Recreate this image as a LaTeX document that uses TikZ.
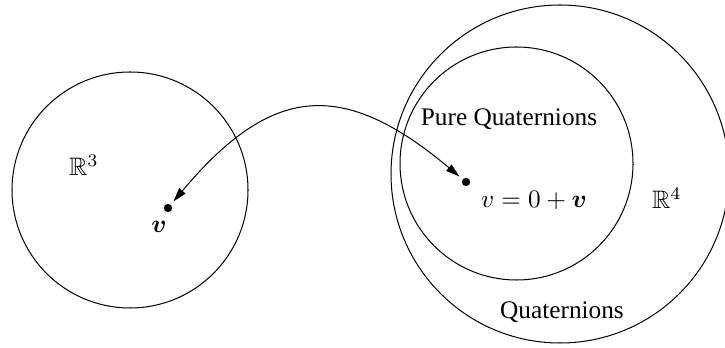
\documentclass[tikz,border=0pt]{standalone}
\usepackage[no-math]{fontspec}
\setmainfont{Liberation Serif}
\usepackage{amsmath,amssymb}
\usetikzlibrary{arrows.meta}
\tikzset{
  space/.style={draw=black, line width=0.4pt},
  spot/.style={circle, fill=black, inner sep=0pt, minimum size=3.3pt},
  tag/.style={inner sep=1pt, font=\normalsize},
  link/.style={{Triangle[length=5.5pt,width=3.2pt]}-{Triangle[length=5.5pt,width=3.2pt]},
               line width=0.4pt, shorten <=1.5pt, shorten >=1.5pt},
}

\begin{document}
\begin{tikzpicture}[x=0.0139cm, y=-0.0139cm]
    \useasboundingbox (0,0) rectangle (725,348);
    \coordinate (cthree) at (130,190);
    \coordinate (cquat)  at (560,174);
    \coordinate (cpure)  at (516.5,163.5);
    \draw[space] (cthree) circle[radius=118];
    \draw[space] (cquat)  circle[radius=169];
    \draw[space] (cpure)  circle[radius=116.5];
    \node[spot] (vvec)  at (168,208) {};
    \node[spot] (vquat) at (466,182) {};
    \node[tag] (lthree) at (84,165)  {$\mathbb{R}^3$};
    \node[tag] (lvec)   at (159,227) {$\boldsymbol{v}$};
    \node[tag] (lpure)  at (509,119) {Pure Quaternions};
    \node[tag] (lvq)    at (534,200) {$v = 0 + \boldsymbol{v}$};
    \node[tag] (lfour)  at (667,198) {$\mathbb{R}^4$};
    \node[tag] (lquat)  at (562,312) {Quaternions};
    \draw[link] (vvec) .. controls (272,84) and (343,79) .. (vquat);
\end{tikzpicture}
\end{document}
